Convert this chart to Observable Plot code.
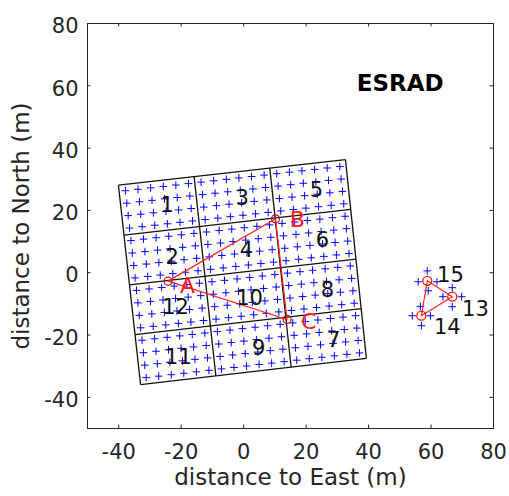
<!DOCTYPE html>
<html><head><meta charset="utf-8">
<script src="https://cdn.jsdelivr.net/npm/d3@7"></script>
<script src="https://cdn.jsdelivr.net/npm/@observablehq/plot@0.6"></script>
<style>body{margin:0;background:#fff}</style>
</head><body><div id="chart"></div>
<script>
// ---- data ----
const xTicks = [-40, -20, 0, 20, 40, 60, 80];
const yTicks = [-40, -20, 0, 20, 40, 60, 80];
// corners of the main antenna array (data units)
const cornerTL = [-40.1, 28.1];
const cornerTR = [32.6, 36.3];
const cornerBR = [39.3, -27.5];
const cornerBL = [-33.0, -35.9];
const cellCols = 3, cellRows = 4;       // module grid
const antennasPerCellX = 6, antennasPerCellY = 4;
const cellLabels = ["1", "3", "5", "2", "4", "6", "12", "10", "8", "11", "9", "7"];
const cellLabelX = [-24.5, -0.5, 23.3, -22.9, 0.9, 25.2, -21.8, 1.9, 26.8, -20.9, 4.8, 28.8];
const cellLabelY = [21.6, 23.8, 26.4, 5.0, 7.1, 10.3, -11.2, -8.3, -5.7, -27.2, -24.3, -21.8];
// receiver triangle A B C
const triNames = ["A", "B", "C"];
const triX = [-24.2, 10.2, 13.9];
const triY = [-2.7, 17.3, -15.0];
const triLabelX = [-18.0, 17.2, 20.8];
const triLabelY = [-4.1, 16.8, -15.9];
// small array triangle 15 13 14
const smallNames = ["15", "13", "14"];
const smallX = [58.8, 66.8, 56.9];
const smallY = [-2.6, -7.7, -13.8];
const smallLabelX = [66.2, 74.2, 65.2];
const smallLabelY = [-0.9, -11.6, -17.5];
const smallAntX = [58.8, 55.9, 61.9, 59.1, 66.8, 63.8, 69.8, 66.8, 56.6, 54.0, 59.8, 56.9];
const smallAntY = [0.6, -2.9, -2.9, -5.8, -4.8, -7.7, -7.7, -10.9, -10.8, -13.8, -13.8, -17.0];
const titleText = "ESRAD";
const titleX = 50.1, titleY = 60.8;
const xLabel = "distance to East (m)";
const yLabel = "distance to North (m)";

// ---- geometry helpers ----
function P(u, v) { // bilinear position inside the array quadrilateral
  const top = [cornerTL[0] + (cornerTR[0] - cornerTL[0]) * u, cornerTL[1] + (cornerTR[1] - cornerTL[1]) * u];
  const bot = [cornerBL[0] + (cornerBR[0] - cornerBL[0]) * u, cornerBL[1] + (cornerBR[1] - cornerBL[1]) * u];
  return [top[0] + (bot[0] - top[0]) * v, top[1] + (bot[1] - top[1]) * v];
}
const gridLines = [];
for (let c = 0; c <= cellCols; c++) {
  const a = P(c / cellCols, 0), b = P(c / cellCols, 1);
  gridLines.push({x1: a[0], y1: a[1], x2: b[0], y2: b[1]});
}
for (let r = 0; r <= cellRows; r++) {
  const a = P(0, r / cellRows), b = P(1, r / cellRows);
  gridLines.push({x1: a[0], y1: a[1], x2: b[0], y2: b[1]});
}
const nx = cellCols * antennasPerCellX, ny = cellRows * antennasPerCellY;
const antennas = [];
for (let i = 0; i < nx; i++) for (let j = 0; j < ny; j++) {
  const p = P((i + 0.5) / nx, (j + 0.5) / ny);
  antennas.push({x: p[0], y: p[1]});
}
const smallAnts = smallAntX.map((x, i) => ({x, y: smallAntY[i]}));
const cells = cellLabels.map((t, i) => ({t, x: cellLabelX[i], y: cellLabelY[i]}));
const tri = triNames.map((t, i) => ({t, x: triX[i], y: triY[i], lx: triLabelX[i], ly: triLabelY[i]}));
const triLoop = [0, 1, 2, 0].map(i => tri[i]);
const small = smallNames.map((t, i) => ({t, x: smallX[i], y: smallY[i], lx: smallLabelX[i], ly: smallLabelY[i]}));
const smallLoop = [0, 1, 2, 0].map(i => small[i]);

const ink = "#262626";
const tk = 1.1; // tick length in data units
const chart = Plot.plot({
  width: 509, height: 496,
  marginLeft: 87, marginRight: 16, marginTop: 23, marginBottom: 68,
  x: {domain: [-50, 80]},
  y: {domain: [-50, 80]},
  style: {fontFamily: "DejaVu Sans", background: "white", color: ink},
  marks: [
    Plot.dot(antennas, {x: "x", y: "y", symbol: "plus", r: 2.6, stroke: "#0000ff", strokeWidth: 1}),
    Plot.dot(smallAnts, {x: "x", y: "y", symbol: "plus", r: 2.6, stroke: "#0000ff", strokeWidth: 1}),
    Plot.link(gridLines, {x1: "x1", y1: "y1", x2: "x2", y2: "y2", stroke: "#111", strokeWidth: 1.3}),
    Plot.line(triLoop, {x: "x", y: "y", stroke: "#ff2020", strokeWidth: 1.2}),
    Plot.line(smallLoop, {x: "x", y: "y", stroke: "#ff2020", strokeWidth: 1.2}),
    Plot.dot(tri, {x: "x", y: "y", r: 4, stroke: "#d01010", strokeWidth: 1.2}),
    Plot.dot(small, {x: "x", y: "y", r: 4.5, stroke: "#ff1010", strokeWidth: 1.3}),
    Plot.text(cells, {x: "x", y: "y", text: "t", fontSize: 21, fill: "#111"}),
    Plot.text(tri, {x: "lx", y: "ly", text: "t", fontSize: 22, fill: "#ff1a1a"}),
    Plot.text(small, {x: "lx", y: "ly", text: "t", fontSize: 21, fill: "#111"}),
    Plot.text([titleText], {x: titleX, y: titleY, text: d => d, fontSize: 23, fontWeight: "bold", fill: "#000", letterSpacing: "0.8px"}),
    Plot.frame({stroke: ink, strokeWidth: 1}),
    Plot.ruleX(xTicks, {x: d => d, y1: -50, y2: -50 + tk, stroke: ink}),
    Plot.ruleX(xTicks, {x: d => d, y1: 80, y2: 80 - tk, stroke: ink}),
    Plot.ruleY(yTicks, {y: d => d, x1: -50, x2: -50 + tk, stroke: ink}),
    Plot.ruleY(yTicks, {y: d => d, x1: 80, x2: 80 - tk, stroke: ink}),
    Plot.axisX(xTicks, {tickSize: 0, tickPadding: 16, label: null, fontSize: 21, fill: ink, tickFormat: d => String(d)}),
    Plot.axisY(yTicks, {tickSize: 0, tickPadding: 9, label: null, fontSize: 21, fill: ink, dy: 3, tickFormat: d => String(d)}),
    Plot.text([xLabel], {frameAnchor: "bottom", dy: 56, text: d => d, fontSize: 23, fill: ink}),
    Plot.text([yLabel], {frameAnchor: "left", dx: -66, rotate: -90, textAnchor: "middle", text: d => d, fontSize: 23, fill: ink})
  ]
});
document.getElementById("chart").appendChild(chart);
</script>
</body></html>
